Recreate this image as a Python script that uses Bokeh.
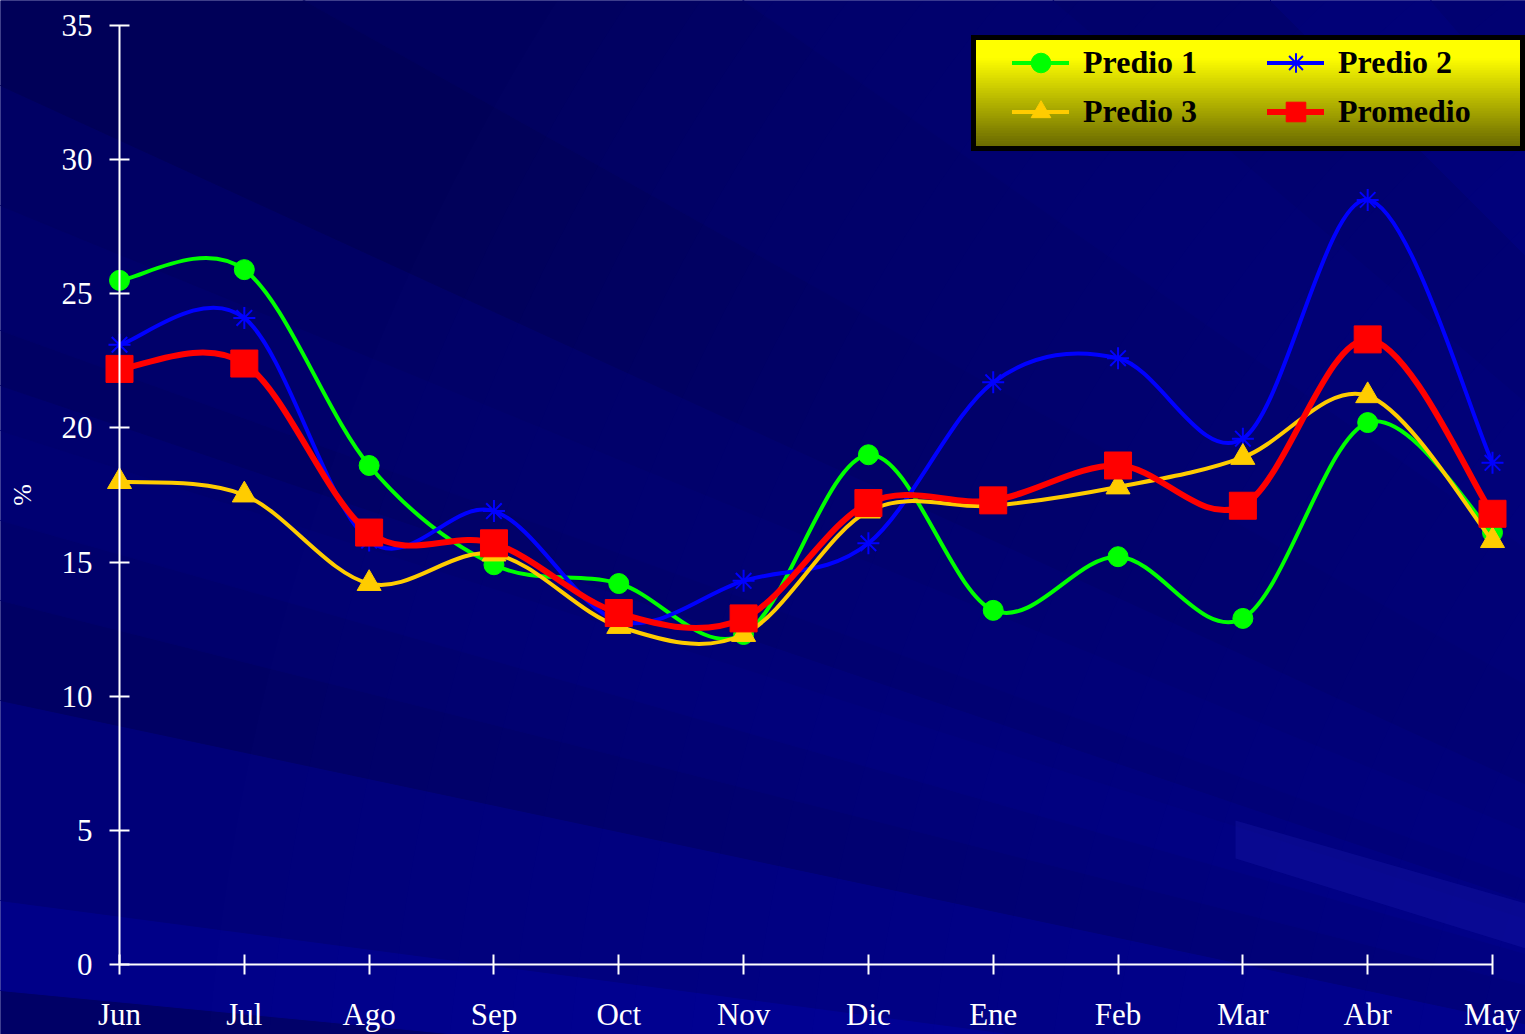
import math
from bokeh.plotting import figure
from bokeh.models import Range1d, FixedTicker, Legend, LegendItem, ColumnDataSource
from bokeh.embed import file_html
from bokeh.resources import INLINE

# ---------------- data ----------------
months = ["Jun", "Jul", "Ago", "Sep", "Oct", "Nov", "Dic", "Ene", "Feb", "Mar", "Abr", "May"]
predio1 = [25.5, 25.9, 18.6, 14.9, 14.2, 12.3, 19.0, 13.2, 15.2, 12.9, 20.2, 16.1]
predio2 = [23.1, 24.1, 15.8, 16.9, 12.8, 14.3, 15.7, 21.7, 22.6, 19.6, 28.5, 18.7]
predio3 = [18.0, 17.5, 14.2, 15.3, 12.6, 12.3, 16.9, 17.1, 17.8, 18.9, 21.2, 15.8]
promedio = [22.2, 22.4, 16.1, 15.7, 13.1, 12.9, 17.2, 17.3, 18.6, 17.1, 23.3, 16.8]
y_ticks = [0, 5, 10, 15, 20, 25, 30, 35]

# ---------------- geometry ----------------
W, H = 1525, 1034
XS = 1373 / 11.0          # px per month
YS = 939 / 35.0           # px per unit
X0_S, Y0_S = 119, 964     # canvas px of (0, 0)


def dx(cx):
    return (cx - X0_S) / XS


def dy(cy):
    return (Y0_S - cy) / YS


x_lo, x_hi = dx(0), dx(W)
y_lo, y_hi = dy(H), dy(0)

p = figure(width=W, height=H, output_backend="svg", toolbar_location=None,
           x_range=Range1d(x_lo, x_hi), y_range=Range1d(y_lo, y_hi),
           min_border=0, min_border_left=0, min_border_right=0,
           min_border_top=0, min_border_bottom=0)
p.background_fill_color = "#000078"
p.border_fill_color = "#000078"
p.outline_line_color = None
p.xgrid.visible = False
p.ygrid.visible = False


def hexc(r, g, b):
    return "#%02x%02x%02x" % (int(round(r)), int(round(g)), int(round(b)))


# ---------------- background streaks (decorative) ----------------
F = (2500, 1230)   # canvas px, convergence point of the light rays
streaks = [  # slope ranges of rays through F and their blue level
    (0.00, 0.078, 0x62), (0.078, 0.096, 0x66), (0.096, 0.132, 0x88),
    (0.132, 0.212, 0x78), (0.212, 0.252, 0x64), (0.252, 0.284, 0x6C),
    (0.284, 0.320, 0x72), (0.320, 0.338, 0x6E), (0.338, 0.360, 0x64),
    (0.360, 0.410, 0x6A), (0.410, 0.458, 0x64), (0.458, 0.56, 0x58),
    (0.56, 0.70, 0x5E), (0.70, 0.85, 0x66), (0.85, 1.0, 0x5E),
    (1.0, 1.15, 0x6C), (1.15, 1.6, 0x62),
]
wx, wy, wc = [], [], []
L = 4000
for s1, s2, b in streaks:
    pts = [F, (F[0] - L, F[1] - L * s1), (F[0] - L, F[1] - L * s2)]
    wx.append([dx(q[0]) for q in pts])
    wy.append([dy(q[1]) for q in pts])
    wc.append(hexc(0, 0, b))
p.patches(wx, wy, fill_color=wc, line_color=wc, line_width=1)

# smooth radial brightening toward the lower right
rx, ry = [], []
for k in range(24):
    r = 2300 - k * 60
    ang = [math.pi + i * (math.pi / 2) / 90 for i in range(91)]
    pts = [(F[0] + r * math.cos(a), F[1] + r * math.sin(a)) for a in ang] + [F]
    rx.append([dx(q[0]) for q in pts])
    ry.append([dy(q[1]) for q in pts])
p.patches(rx, ry, fill_color="#1a1ad0", fill_alpha=0.018, line_color=None)

# bright streak in the lower right
ls = [(1235, 820), (1525, 903), (1525, 948), (1235, 858)]
p.patch([dx(q[0]) for q in ls], [dy(q[1]) for q in ls],
        fill_color="#2a2ac0", fill_alpha=0.22, line_color=None)


# ---------------- smoothed series ----------------
def smooth(ys):
    n = len(ys)
    xs = list(range(n))
    d = dict(x0=[], y0=[], x1=[], y1=[], cx0=[], cy0=[], cx1=[], cy1=[])
    for i in range(n - 1):
        a = max(i - 1, 0)
        b = min(i + 2, n - 1)
        d["x0"].append(xs[i]); d["y0"].append(ys[i])
        d["x1"].append(xs[i + 1]); d["y1"].append(ys[i + 1])
        d["cx0"].append(xs[i] + (xs[i + 1] - xs[a]) / 6.0)
        d["cy0"].append(ys[i] + (ys[i + 1] - ys[a]) / 6.0)
        d["cx1"].append(xs[i + 1] - (xs[b] - xs[i]) / 6.0)
        d["cy1"].append(ys[i + 1] - (ys[b] - ys[i]) / 6.0)
    return ColumnDataSource(d)


xpos = list(range(len(months)))
series = [
    ("Predio 1", predio1, "#00ff00", 4, dict(marker="circle", size=20, fill_color="#00ff00", line_color="#00ff00")),
    ("Predio 2", predio2, "#0000ff", 4, dict(marker="asterisk", size=22, line_color="#0000ff", line_width=2)),
    ("Predio 3", predio3, "#ffcc00", 4, dict(marker="triangle", size=24, fill_color="#ffcc00", line_color="#ffcc00")),
    ("Promedio", promedio, "#ff0000", 6, dict(marker="square", size=27, fill_color="#ff0000", line_color="#ff0000")),
]
items = {}
for name, ys, col, lw, mk in series:
    r1 = p.bezier(x0="x0", y0="y0", x1="x1", y1="y1", cx0="cx0", cy0="cy0",
                  cx1="cx1", cy1="cy1", source=smooth(ys), line_color=col,
                  line_width=lw, line_join="round", line_cap="round")
    r2 = p.scatter(xpos, ys, **mk)
    items[name] = LegendItem(label=name, renderers=[r1, r2])

# ---------------- axes ----------------
for ax in (p.xaxis, p.yaxis):
    ax.fixed_location = 0
    ax.axis_line_color = "white"
    ax.axis_line_width = 2
    ax.major_tick_line_color = "white"
    ax.major_tick_line_width = 2
    ax.major_tick_in = 10
    ax.major_tick_out = 10
    ax.minor_tick_line_color = None
    ax.major_label_text_color = "white"
    ax.major_label_text_font = "Liberation Serif"
    ax.major_label_text_font_size = "31px"

p.xaxis.bounds = (0, 11)
p.xaxis.ticker = FixedTicker(ticks=xpos)
p.xaxis.major_label_overrides = {i: m for i, m in enumerate(months)}
p.xaxis.major_label_standoff = 22
p.yaxis.bounds = (0, 35)
p.yaxis.ticker = FixedTicker(ticks=y_ticks)
p.yaxis.major_label_standoff = 17
p.yaxis.axis_label = "%"
p.yaxis.axis_label_text_font = "Liberation Serif"
p.yaxis.axis_label_text_font_style = "normal"
p.yaxis.axis_label_text_font_size = "26px"
p.yaxis.axis_label_text_color = "white"
p.yaxis.axis_label_standoff = 22

# ---------------- legend ----------------
BX_L, BX_T, BX_R, BX_B = 973, 37, 1522, 148   # canvas px of the legend frame
nb = 44
gx0, gx1, gt, gb, gc = [], [], [], [], []
for i in range(nb):
    t0 = BX_T + (BX_B - BX_T) * i / nb
    t1 = BX_T + (BX_B - BX_T) * (i + 1) / nb
    ym = (t0 + t1) / 2 - BX_T
    f = min(max((ym - 20) / (BX_B - BX_T - 24), 0), 1)
    c = 255 - f * (255 - 0x6c)
    gx0.append(dx(BX_L)); gx1.append(dx(BX_R))
    gt.append(dy(t0)); gb.append(dy(min(t1 + 1.5, BX_B))); gc.append(hexc(c, c, 0))
p.quad(left=gx0, right=gx1, top=gt, bottom=gb, fill_color=gc, line_color=None)
p.quad(left=[dx(BX_L)], right=[dx(BX_R)], top=[dy(BX_T)], bottom=[dy(BX_B)],
       fill_color=None, line_color="black", line_width=5, line_join="miter")

GL, GT, GH = 1012, 38, 49        # legend item grid: left, top, row height
legend = Legend(items=[items["Predio 1"], items["Predio 3"], items["Predio 2"], items["Promedio"]],
                ncols=2, location=(GL, H - (GT + 2 * GH)),
                background_fill_alpha=0, border_line_color=None,
                label_text_font="Liberation Serif",
                label_text_font_style="bold", label_text_font_size="32px",
                label_text_color="black", glyph_width=57, glyph_height=GH,
                label_height=GH, label_standoff=14, label_width=184,
                spacing=0, padding=0, margin=0)
p.add_layout(legend, "center")

open("out.html", "w").write(file_html(p, INLINE))
